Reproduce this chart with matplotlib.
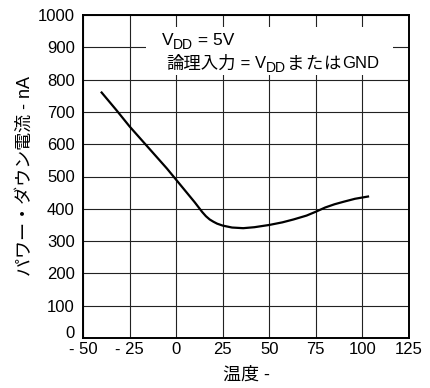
import matplotlib
matplotlib.use("Agg")
import matplotlib.pyplot as plt
from matplotlib.patches import Rectangle
from matplotlib.transforms import IdentityTransform, ScaledTranslation

plt.rcParams['font.family'] = ['Liberation Sans', 'Noto Sans CJK JP']
plt.rcParams['font.size'] = 12

# temperature (C) vs power-down current (nA)
temp = [-40, -32, -25, -15, -5, 0, 5, 10, 12, 14, 16, 18, 20, 22, 25, 30, 36,
        42, 50, 57, 63, 70, 75, 80, 85, 90, 96, 103]
current = [760, 705, 655, 590, 525, 490, 455, 420, 405, 390, 377, 367, 360, 354,
           348, 342, 340, 343, 350, 358, 367, 379, 391, 404, 414, 422, 431, 438]

xticks = [-50, -25, 0, 25, 50, 75, 100, 125]
xlabels = ['- 50', '- 25', '0', '25', '50', '75', '100', '125']
yticks = [0, 100, 200, 300, 400, 500, 600, 700, 800, 900, 1000]

fig = plt.figure(figsize=(4.31, 3.88), dpi=100)
ax = fig.add_subplot(111)
fig.subplots_adjust(left=83/431, right=409/431, top=1-15/388, bottom=1-338/388)

ax.plot(temp, current, color='black', lw=1.6, zorder=3)

ax.set_xlim(-50, 125)
ax.set_ylim(0, 1000)
ax.set_xticks(xticks)
ax.set_xticklabels(xlabels)
ax.set_yticks(yticks)
ax.tick_params(length=0, labelsize=12)
ax.tick_params(axis='x', pad=3)
ax.tick_params(axis='y', pad=6)
ax.grid(True, color='#222222', lw=0.8)
ax.set_axisbelow(True)
for s in ax.spines.values():
    s.set_linewidth(1.4)

# lift the "0" label a little so it clears the x labels
lab0 = ax.get_yticklabels()[0]
lab0.set_transform(lab0.get_transform() + ScaledTranslation(0, 4/72, fig.dpi_scale_trans))

ax.set_xlabel('温度 -', fontsize=13)
ax.xaxis.set_label_coords(0.5, -0.088)
ax.set_ylabel('パワー・ダウン電流 - nA', fontsize=13)
ax.yaxis.set_label_coords(-0.15, 0.5)

# white box behind the conditions text
ax.add_patch(Rectangle((0.194, 0.814), 0.757, 0.149, transform=ax.transAxes,
                       facecolor='white', edgecolor='none', zorder=2))

fig.canvas.draw()
renderer = fig.canvas.get_renderer()
H = fig.bbox.height


def run(x, y, parts):
    # parts: (text, size, baseline drop px, extra gap px); y = baseline from top
    for s, size, dy, gap in parts:
        t = fig.text(x, H - y - dy, s, transform=IdentityTransform(),
                     fontsize=size, va='baseline', ha='left', zorder=5)
        x = t.get_window_extent(renderer).x1 + gap


run(161.5, 45, [('V', 12.5, 0, 0), ('DD', 10, 4, 0), (' = 5V', 12.5, 0, 0)])
run(166.5, 68.5, [('論理入力', 12.5, 0, 0), (' = V', 12, 0, 0), ('DD', 10, 4, 1),
                  ('ま', 12.5, 0, 1), ('た', 12.5, 0, 1), ('は', 12.5, 0, 1),
                  ('GND', 12, 0, 0)])

fig.savefig('out.png', dpi=100)
